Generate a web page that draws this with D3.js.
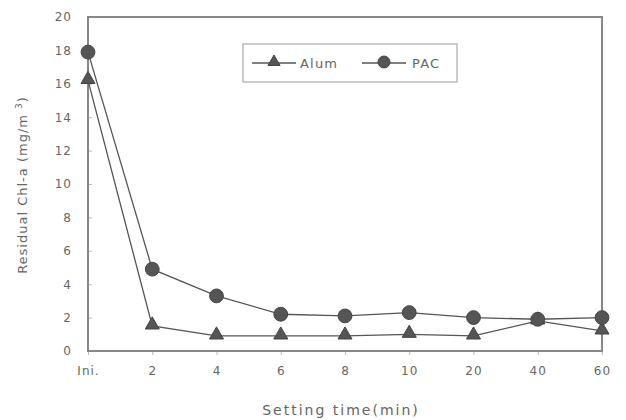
<!DOCTYPE html>
<html>
<head>
<meta charset="utf-8">
<script src="https://cdn.jsdelivr.net/npm/d3@7"></script>
<style>
  body { margin: 0; background: #fff; }
  svg text { font-family: "DejaVu Sans", sans-serif; fill: #666; }
</style>
</head>
<body>
<svg id="canvas" width="626" height="420"></svg>
<script>
const categories = ["Ini.", "2", "4", "6", "8", "10", "20", "40", "60"];
const alum = [16.2, 1.5, 0.9, 0.9, 0.9, 1.0, 0.9, 1.8, 1.2];
const pac = [17.9, 4.9, 3.3, 2.2, 2.1, 2.3, 2.0, 1.9, 2.0];
const yTicks = [0, 2, 4, 6, 8, 10, 12, 14, 16, 18, 20];

function chart() {
  const svg = d3.select("#canvas");
  const left = 88, right = 602, top = 17, bottom = 351;

  const x = d3.scalePoint().domain(categories).range([left, right]).padding(0);
  const y = d3.scaleLinear().domain([0, 20]).range([bottom, top]);

  // axes
  const yAxis = svg.append("g")
    .attr("transform", `translate(${left},0)`)
    .call(d3.axisLeft(y).tickValues(yTicks).tickSize(-4).tickPadding(16));
  const xAxis = svg.append("g")
    .attr("transform", `translate(0,${bottom})`)
    .call(d3.axisBottom(x).tickSize(4).tickPadding(16));

  [xAxis, yAxis].forEach((g) => {
    g.select(".domain").remove();
    g.selectAll(".tick line").attr("stroke", "#bbb");
    g.selectAll(".tick text")
      .style("font-size", "12px")
      .style("letter-spacing", "1px")
      .attr("fill", "#666");
  });
  xAxis.selectAll(".tick text").attr("dy", "0.3em");

  // frame
  svg.append("rect")
    .attr("x", left).attr("y", top)
    .attr("width", right - left).attr("height", bottom - top)
    .attr("fill", "none")
    .attr("stroke", "#888")
    .attr("stroke-width", 2);

  const line = d3.line()
    .x((d, i) => x(categories[i]))
    .y((d) => y(d));

  const series = [
    { name: "Alum", values: alum, shape: d3.symbolTriangle, size: 85 },
    { name: "PAC", values: pac, shape: d3.symbolCircle, size: 150 },
  ];

  series.forEach((s) => {
    svg.append("path")
      .datum(s.values)
      .attr("d", line)
      .attr("fill", "none")
      .attr("stroke", "#555")
      .attr("stroke-width", 1.3);
  });

  series.forEach((s) => {
    const sym = d3.symbol().type(s.shape).size(s.size);
    svg.append("g")
      .selectAll("path")
      .data(s.values)
      .join("path")
      .attr("d", sym)
      .attr("transform", (d, i) => `translate(${x(categories[i])},${y(d) + (s.name === "Alum" ? -1 : 0)})`)
      .attr("fill", "#555")
      .attr("stroke", "#444")
      .attr("stroke-width", 1);
  });

  // legend
  const lg = svg.append("g");
  lg.append("rect")
    .attr("x", 243).attr("y", 44)
    .attr("width", 214).attr("height", 38)
    .attr("fill", "#fff")
    .attr("stroke", "#bbb")
    .attr("stroke-width", 1.5);
  const items = [
    { s: series[0], x0: 252, tx: 300 },
    { s: series[1], x0: 362, tx: 412 },
  ];
  items.forEach((it) => {
    lg.append("line")
      .attr("x1", it.x0).attr("x2", it.x0 + 44)
      .attr("y1", 63).attr("y2", 63)
      .attr("stroke", "#555").attr("stroke-width", 1.3);
    lg.append("path")
      .attr("d", d3.symbol().type(it.s.shape).size(it.s.size * 0.75))
      .attr("transform", `translate(${it.x0 + 22},62)`)
      .attr("fill", "#555").attr("stroke", "#444");
    lg.append("text")
      .attr("x", it.tx).attr("y", 63)
      .attr("dy", "0.35em")
      .style("font-size", "13px")
      .style("letter-spacing", "1.2px")
      .text(it.s.name);
  });

  // axis titles
  svg.append("text")
    .attr("x", 341).attr("y", 410)
    .attr("text-anchor", "middle")
    .attr("dy", "0.35em")
    .style("font-size", "14px")
    .style("letter-spacing", "2px")
    .text("Setting time(min)");

  const yt = svg.append("text")
    .attr("transform", "translate(22,185) rotate(-90)")
    .attr("text-anchor", "middle")
    .attr("dy", "0.35em")
    .style("font-size", "13px")
    .style("letter-spacing", "1px");
  yt.append("tspan").text("Residual Chl-a (mg/m ");
  yt.append("tspan").attr("dy", "-5").style("font-size", "9px").text("3");
  yt.append("tspan").attr("dy", "5").text(")");
}

window.addEventListener("DOMContentLoaded", () => chart());
</script>
</body>
</html>
